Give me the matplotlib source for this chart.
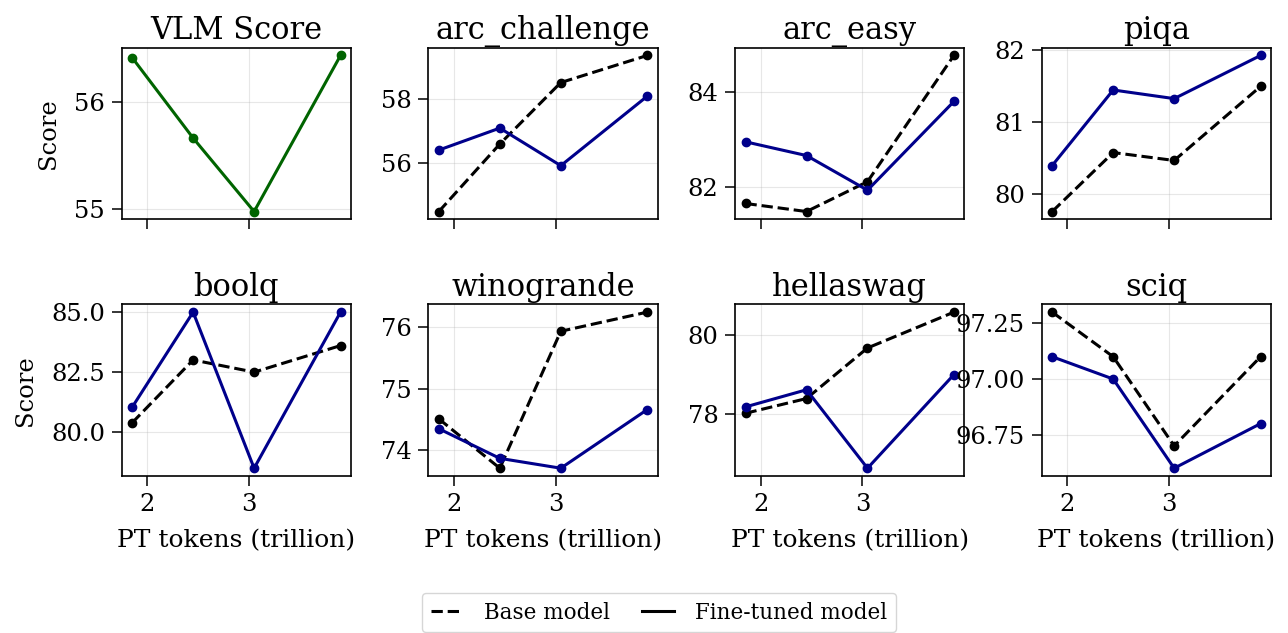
import numpy as np
import matplotlib
matplotlib.use("Agg")
import matplotlib.pyplot as plt
from matplotlib.ticker import MaxNLocator
from matplotlib.lines import Line2D

plt.rcParams['font.family'] = ['DejaVu Serif']

# PT tokens (trillion)
pt_tokens = [1.85, 2.45, 3.05, 3.9]

vlm_score = [56.41, 55.66, 54.975, 56.43]

tasks = ["arc_challenge", "arc_easy", "piqa", "boolq",
         "winogrande", "hellaswag", "sciq"]

base_arc_challenge = [54.47, 56.59, 58.52, 59.37]
ft_arc_challenge = [56.40, 57.09, 55.91, 58.09]

base_arc_easy = [81.65, 81.48, 82.11, 84.77]
ft_arc_easy = [82.95, 82.66, 81.93, 83.80]

base_piqa = [79.76, 80.58, 80.47, 81.50]
ft_piqa = [80.40, 81.45, 81.33, 81.93]

base_boolq = [80.37, 83.0, 82.49, 83.6]
ft_boolq = [81.02, 85.0, 78.47, 85.0]

base_winogrande = [74.51, 73.71, 75.93, 76.24]
ft_winogrande = [74.35, 73.87, 73.71, 74.66]

base_hellaswag = [78.03, 78.40, 79.67, 80.57]
ft_hellaswag = [78.19, 78.62, 76.65, 79.0]

base_sciq = [97.30, 97.10, 96.70, 97.10]
ft_sciq = [97.10, 97.00, 96.60, 96.80]

base_scores = [base_arc_challenge, base_arc_easy, base_piqa, base_boolq,
               base_winogrande, base_hellaswag, base_sciq]
ft_scores = [ft_arc_challenge, ft_arc_easy, ft_piqa, ft_boolq,
             ft_winogrande, ft_hellaswag, ft_sciq]

fig, axes = plt.subplots(2, 4, figsize=(12.88, 6.33), dpi=100, sharex=True)
fig.subplots_adjust(left=0.0945, right=0.9868, top=0.9247, bottom=0.248,
                    wspace=0.338, hspace=0.495)
axes = axes.flatten()

# VLM 分數
ax = axes[0]
ax.plot(pt_tokens, vlm_score, '-o', color='darkgreen', linewidth=2.2, markersize=6)
ax.set_title("VLM Score", fontsize=22)

for i, name in enumerate(tasks):
    ax = axes[i + 1]
    ax.plot(pt_tokens, base_scores[i], '--o', color='black', linewidth=2.2, markersize=6)
    ax.plot(pt_tokens, ft_scores[i], '-o', color='darkblue', linewidth=2.2, markersize=6)
    ax.set_title(name, fontsize=22)

for i, ax in enumerate(axes):
    ax.grid(True, alpha=0.3)
    ax.set_xticks([2, 3])
    ax.yaxis.set_major_locator(MaxNLocator(nbins=3, steps=[1, 2, 2.5, 5, 10]))
    ax.tick_params(labelsize=17.5, length=7, width=1.1, pad=5)
    for sp in ax.spines.values():
        sp.set_linewidth(1.2)
    if i % 4 == 0:
        ax.set_ylabel("Score", fontsize=17.5, labelpad=10)
    if i >= 4:
        ax.set_xlabel("PT tokens (trillion)", fontsize=18, labelpad=10)

handles = [Line2D([0], [0], color='black', linestyle='--', linewidth=2.2),
           Line2D([0], [0], color='black', linestyle='-', linewidth=2.2)]
fig.legend(handles, ["Base model", "Fine-tuned model"], loc='upper center',
           bbox_to_anchor=(0.5117, 0.0632), ncol=2, fontsize=15.5, frameon=True,
           handlelength=1.5, handletextpad=1.0, columnspacing=1.45,
           borderaxespad=0)

fig.savefig("out.png", dpi=100)
